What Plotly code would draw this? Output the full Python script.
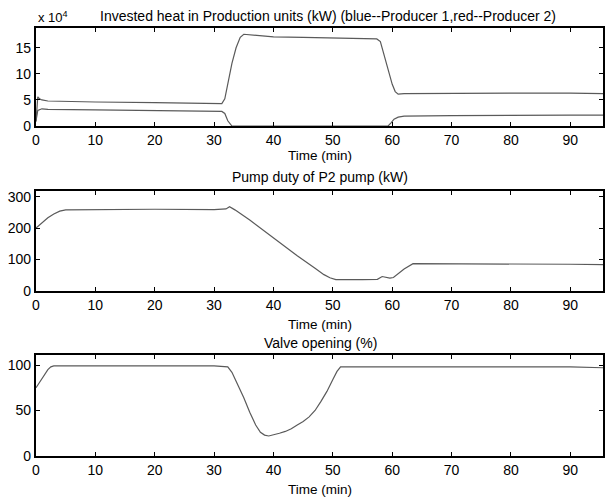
import plotly.graph_objects as go

# ---------------- data ----------------
# Panel 1: invested heat (x 10^4 kW)
t_p1 = [0, 0.3, 0.6, 1, 2, 5, 10, 20, 30, 31.3, 31.8, 32.3, 33, 33.7, 34.4, 35, 36, 38, 40, 45,
        50, 55, 57.4, 58, 58.7, 59.4, 60, 60.5, 61, 62, 70, 80, 90, 95.5]
heat_p1 = [0.8, 5.6, 5.2, 5.0, 4.8, 4.7, 4.6, 4.5, 4.4, 4.3, 5.2, 8.0, 12.0, 15.0, 17.0, 17.6, 17.5, 17.3, 17.1, 17.0,
           16.9, 16.8, 16.7, 16.2, 13.5, 10.5, 8.0, 6.6, 6.1, 6.2, 6.3, 6.3, 6.3, 6.2]

t_p2 = [0, 0.3, 1, 2, 10, 20, 30, 31.3, 31.8, 32.3, 33, 40, 50, 59.3, 59.8, 60.3, 61, 62, 70, 80, 90, 95.5]
heat_p2 = [1.0, 3.0, 3.3, 3.2, 3.1, 3.0, 2.9, 2.8, 2.4, 1.0, 0.0, 0.0, 0.0, 0.0, 0.6, 1.3, 1.7, 1.9, 2.0, 2.1, 2.1, 2.1]

# Panel 2: pump duty of P2 pump (kW)
t_pump = [0, 1, 2, 3, 4, 5, 10, 20, 30, 32, 32.6, 33.5, 36, 40, 44, 47, 48.5, 49.5, 50.5, 55, 57.5,
          58.3, 58.8, 59.6, 60.2, 61, 62, 63.5, 70, 80, 90, 95.5]
pump = [200, 218, 233, 245, 254, 258, 259, 260, 259, 261, 268, 258, 226, 168, 112, 72, 52, 42, 36, 36, 37,
        46, 44, 41, 43, 55, 70, 87, 87, 86, 85, 84]

# Panel 3: valve opening (%)
t_valve = [0, 0.5, 1, 1.5, 2, 2.5, 3, 10, 20, 30, 32.3, 33, 34, 35, 36, 37, 37.8, 38.5, 39.2, 40,
           41, 42, 43, 44, 45, 46, 47, 48, 49, 50, 50.7, 51.3, 52, 60, 70, 80, 90, 95.5]
valve = [75, 80, 85, 90, 95, 98, 99, 99, 99, 99, 98, 92, 78, 64, 48, 34, 26, 23, 22, 23,
         25, 27, 30, 34, 38, 43, 50, 60, 71, 84, 93, 98, 98, 98, 98, 98, 98, 97]

x_ticks = [0, 10, 20, 30, 40, 50, 60, 70, 80, 90]
y1_ticks = [0, 5, 10, 15]
y2_ticks = [0, 100, 200, 300]
y3_ticks = [0, 50, 100]

titles = ["Invested heat in Production units (kW) (blue--Producer 1,red--Producer 2)",
          "Pump duty of P2 pump (kW)",
          "Valve opening (%)"]
xlabel = "Time (min)"

# ---------------- figure ----------------
W, H = 605, 499
FONT = "Liberation Sans, Arial, sans-serif"
LINE = "#5a5a5a"

def py(px):
    return 1 - px / H

fig = go.Figure()
fig.add_trace(go.Scatter(x=t_p1, y=heat_p1, mode="lines", line=dict(color=LINE, width=1.2),
                         xaxis="x", yaxis="y", showlegend=False))
fig.add_trace(go.Scatter(x=t_p2, y=heat_p2, mode="lines", line=dict(color=LINE, width=1.2),
                         xaxis="x", yaxis="y", showlegend=False))
fig.add_trace(go.Scatter(x=t_pump, y=pump, mode="lines", line=dict(color=LINE, width=1.2),
                         xaxis="x2", yaxis="y2", showlegend=False))
fig.add_trace(go.Scatter(x=t_valve, y=valve, mode="lines", line=dict(color=LINE, width=1.2),
                         xaxis="x3", yaxis="y3", showlegend=False))

xdom = [36 / W, 603 / W]
panels = [(28, 126, [0, 18.8], y1_ticks), (191, 291, [0, 318], y2_ticks), (355, 456, [0, 111], y3_ticks)]

axis_common = dict(showline=True, linecolor="black", linewidth=2.2, mirror="ticks",
                   ticks="inside", ticklen=4, tickwidth=1, tickcolor="black",
                   showgrid=False, zeroline=False,
                   tickfont=dict(family=FONT, size=14, color="black"))

layout = dict(width=W, height=H, margin=dict(l=0, r=0, t=0, b=0),
              paper_bgcolor="white", plot_bgcolor="white", showlegend=False)

for i, (top, bot, yr, yt) in enumerate(panels):
    sx = "" if i == 0 else str(i + 1)
    layout["xaxis" + sx] = dict(domain=xdom, range=[0, 95.5], tickvals=x_ticks, automargin=False,
                                anchor="y" + sx, **axis_common)
    layout["yaxis" + sx] = dict(domain=[py(bot), py(top)], range=yr, tickvals=yt, automargin=False,
                                anchor="x" + sx, **axis_common)
fig.update_layout(**layout)

ann = []
title_y = [16, 177, 343]
xlab_y = [155, 324, 489]
for i in range(3):
    ann.append(dict(text=titles[i], xref="paper", yref="paper", x=(328 if i == 0 else 320) / W,
                    y=py(title_y[i]), xanchor="center", yanchor="middle", showarrow=False,
                    font=dict(family=FONT, size=14, color="black")))
    ann.append(dict(text=xlabel, xref="paper", yref="paper", x=320 / W, y=py(xlab_y[i]),
                    xanchor="center", yanchor="middle", showarrow=False,
                    font=dict(family=FONT, size=13.5, color="black")))
ann.append(dict(text="x 10<sup>4</sup>", xref="paper", yref="paper", x=36 / W, y=py(17),
                xanchor="left", yanchor="middle", showarrow=False,
                font=dict(family=FONT, size=13, color="black")))
fig.update_layout(annotations=ann)

fig.write_html("out.html")
